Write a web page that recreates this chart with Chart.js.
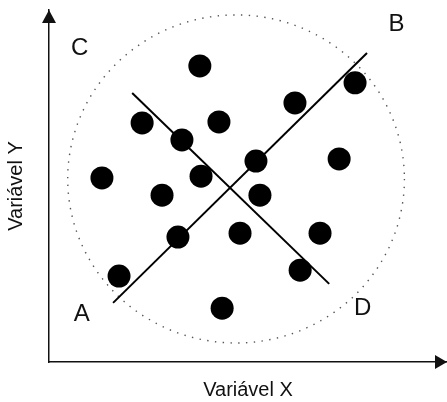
<!DOCTYPE html>
<html>
<head>
<meta charset="utf-8">
<script src="https://cdn.jsdelivr.net/npm/chart.js@4.4.0/dist/chart.umd.min.js"></script>
<style>
  body { margin: 0; background: #fff; }
</style>
</head>
<body>
<canvas id="myChart" width="447" height="402"></canvas>
<script>
// pontos do grafico de dispersao (escala 0-100 nos dois eixos)
const pontosX = [37.9, 76.9, 61.8, 23.4, 42.7, 33.4, 52.0, 72.9, 13.3, 38.2, 28.4, 53.0, 32.4, 48.0, 68.1, 17.6, 63.1, 43.5];
const pontosY = [84.1, 79.3, 73.6, 67.9, 68.2, 63.1, 57.1, 57.7, 52.3, 52.8, 47.4, 47.4, 35.5, 36.6, 36.6, 24.4, 26.1, 15.3];

// retas A-B e C-D (inicio e fim)
const retaAB_X = [16.1, 79.9];
const retaAB_Y = [16.8, 87.8];
const retaCD_X = [20.9, 70.4];
const retaCD_Y = [76.4, 22.2];

// letras dos cantos
const letras = ['A', 'B', 'C', 'D'];
const letrasX = [8.2, 87.3, 7.7, 78.8];
const letrasY = [13.5, 95.9, 89.2, 15.1];

// circulo pontilhado: centro e raios (x, y)
const circuloCentro = [47.0, 52.0];
const circuloRaio = [42.3, 46.6];

const tituloX = 'Variável X';
const tituloY = 'Variável Y';

function juntar(xs, ys) {
  let lista = [];
  for (let i = 0; i < xs.length; i++) {
    lista.push({ x: xs[i], y: ys[i] });
  }
  return lista;
}

const fonte = 'Liberation Sans, Arial, sans-serif';

// circulo, setas dos eixos e letras
const extras = {
  id: 'extras',
  beforeDatasetsDraw(chart) {
    const { ctx, scales: { x, y } } = chart;
    const cx = x.getPixelForValue(circuloCentro[0]);
    const cy = y.getPixelForValue(circuloCentro[1]);
    const rx = x.getPixelForValue(circuloCentro[0] + circuloRaio[0]) - cx;
    const ry = cy - y.getPixelForValue(circuloCentro[1] + circuloRaio[1]);
    ctx.save();
    ctx.beginPath();
    ctx.ellipse(cx, cy, rx, ry, 0, 0, Math.PI * 2);
    ctx.setLineDash([1.4, 6.4]);
    ctx.lineWidth = 1.4;
    ctx.strokeStyle = '#555';
    ctx.stroke();
    ctx.restore();
  },
  afterDraw(chart) {
    const { ctx, chartArea: a, scales: { x, y } } = chart;
    ctx.save();
    ctx.fillStyle = '#111';

    // seta do eixo Y
    ctx.beginPath();
    ctx.moveTo(a.left, a.top);
    ctx.lineTo(a.left - 7, a.top + 13);
    ctx.lineTo(a.left + 7, a.top + 13);
    ctx.closePath();
    ctx.fill();

    // seta do eixo X
    ctx.beginPath();
    ctx.moveTo(a.right, a.bottom);
    ctx.lineTo(a.right - 12, a.bottom - 7);
    ctx.lineTo(a.right - 12, a.bottom + 7);
    ctx.closePath();
    ctx.fill();

    ctx.font = '24px ' + fonte;
    ctx.textAlign = 'center';
    ctx.textBaseline = 'middle';
    for (let i = 0; i < letras.length; i++) {
      ctx.fillText(letras[i], x.getPixelForValue(letrasX[i]), y.getPixelForValue(letrasY[i]));
    }
    ctx.restore();
  }
};

const config = {
  type: 'scatter',
  data: {
    datasets: [
      {
        data: juntar(pontosX, pontosY),
        backgroundColor: '#000',
        borderWidth: 0,
        pointRadius: 11.5
      },
      {
        data: juntar(retaAB_X, retaAB_Y),
        showLine: true,
        borderColor: '#000',
        borderWidth: 2,
        pointRadius: 0
      },
      {
        data: juntar(retaCD_X, retaCD_Y),
        showLine: true,
        borderColor: '#000',
        borderWidth: 2,
        pointRadius: 0
      }
    ]
  },
  options: {
    responsive: false,
    animation: false,
    events: [],
    layout: { autoPadding: false, padding: { top: 10, right: 0, bottom: 0, left: 0 } },
    plugins: {
      legend: { display: false },
      tooltip: { enabled: false }
    },
    scales: {
      x: {
        type: 'linear',
        min: 0,
        max: 100,
        grid: { display: false, drawTicks: false },
        ticks: { display: false },
        border: { display: true, color: '#111', width: 1.5 },
        title: {
          display: true,
          text: tituloX,
          color: '#111',
          font: { size: 20, family: fonte },
          padding: { top: 0, bottom: 0 }
        },
        afterFit: function (s) { s.height = 40; }
      },
      y: {
        type: 'linear',
        min: 0,
        max: 100,
        grid: { display: false, drawTicks: false },
        ticks: { display: false },
        border: { display: true, color: '#111', width: 1.5 },
        title: {
          display: true,
          text: tituloY,
          color: '#111',
          font: { size: 20, family: fonte },
          padding: { top: 4, bottom: 0 }
        },
        afterFit: function (s) { s.width = 49; }
      }
    }
  },
  plugins: [extras]
};

const myChart = new Chart(document.getElementById('myChart'), config);
</script>
</body>
</html>
